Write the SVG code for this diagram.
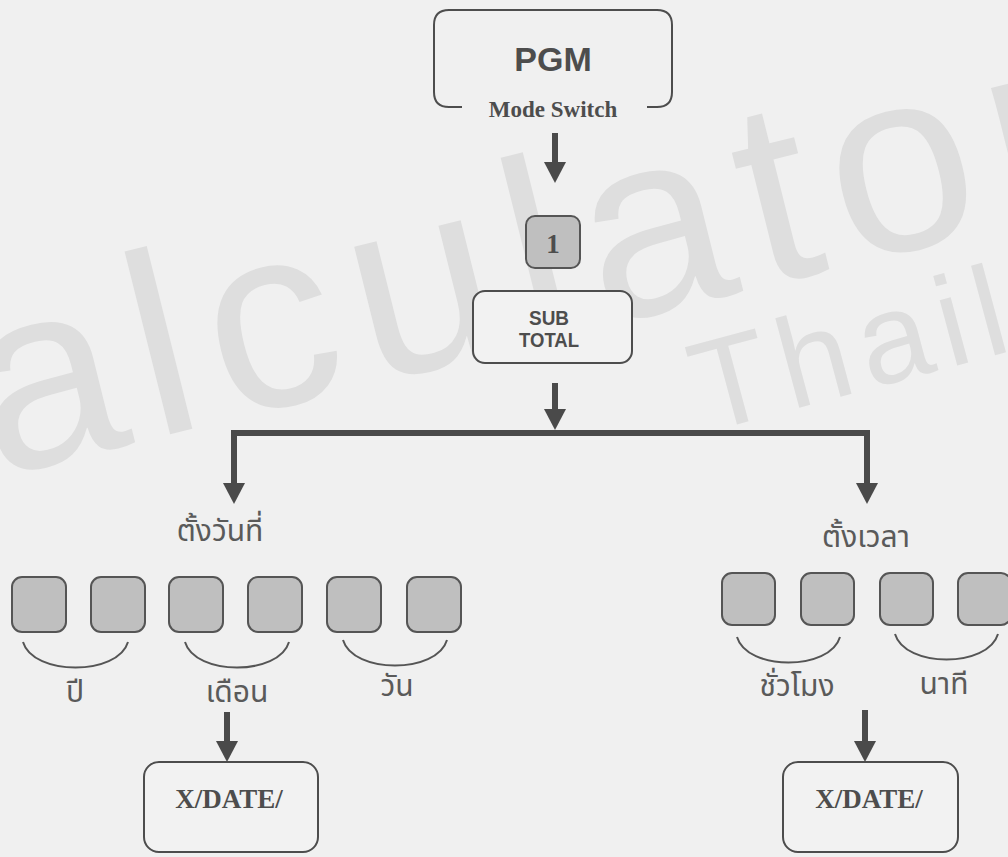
<svg xmlns="http://www.w3.org/2000/svg" width="1008" height="857" viewBox="0 0 1008 857">
<style>
.box{fill:#f2f2f2;stroke:#4d4d4d;stroke-width:2}
.key{fill:#bfbfbf;stroke:#555;stroke-width:2}
.conn{fill:none;stroke:#4a4a4a;stroke-width:6;stroke-linejoin:miter}
.arc{fill:none;stroke:#555;stroke-width:2}
.sans{font-family:"Liberation Sans",Arial,sans-serif;font-weight:bold;fill:#4d4d4d;text-anchor:middle}
.serif{font-family:"Liberation Serif","Times New Roman",serif;font-weight:bold;fill:#4d4d4d;text-anchor:middle}
.thai{font-family:"Noto Sans Thai","Noto Sans","DejaVu Sans",sans-serif;font-size:30px;fill:#5a5a5a;text-anchor:middle}
.wm{font-family:"Liberation Sans",Arial,sans-serif;fill:#dedede}
</style>
<defs>
<marker id="ah" markerUnits="userSpaceOnUse" markerWidth="24" markerHeight="24" refX="0" refY="11" orient="auto">
<path d="M0,0 L21,11 L0,22 z" fill="#4a4a4a"/>
</marker>
</defs>
<rect width="1008" height="857" fill="#f0f0f0"/>
<g id="watermark">
<text class="wm" x="-5" y="478" font-size="260" textLength="1130" lengthAdjust="spacing" transform="rotate(-14 -5 478)">alculator</text>
<text class="wm" x="705" y="433" font-size="128" textLength="320" lengthAdjust="spacing" transform="rotate(-15 705 433)">Thail</text>
</g>
<g id="connectors">
<path class="conn" d="M555 133 V162" marker-end="url(#ah)"/>
<path class="conn" d="M555 383 V409" marker-end="url(#ah)"/>
<path class="conn" d="M555 433 H234 V483" marker-end="url(#ah)"/>
<path class="conn" d="M555 433 H867 V483" marker-end="url(#ah)"/>
<path class="conn" d="M227 712 V741" marker-end="url(#ah)"/>
<path class="conn" d="M865 710 V741" marker-end="url(#ah)"/>
</g>
<g id="pgm">
<path class="box" style="fill:none" d="M462 107 H449 Q434 107 434 92 V25 Q434 10 449 10 H657 Q672 10 672 25 V92 Q672 107 657 107 H647"/>
<text class="sans" x="553" y="71" font-size="34">PGM</text>
<text class="serif" x="553" y="117" font-size="23">Mode Switch</text>
</g>
<g id="key1">
<rect class="key" x="526" y="216" width="54" height="52" rx="9"/>
<text class="serif" x="553" y="253" font-size="27">1</text>
</g>
<g id="subtotal">
<rect class="box" x="473" y="291" width="159" height="72" rx="12"/>
<text class="sans" x="549" y="325" font-size="21" textLength="40" lengthAdjust="spacingAndGlyphs">SUB</text>
<text class="sans" x="549" y="347" font-size="21" textLength="60" lengthAdjust="spacingAndGlyphs">TOTAL</text>
</g>
<g id="set-date">
<text class="thai" x="220" y="541">ตั้งวันที่</text>
<rect class="key" x="12" y="577" width="54" height="55" rx="10"/>
<rect class="key" x="91" y="577" width="54" height="55" rx="10"/>
<rect class="key" x="169" y="577" width="54" height="55" rx="10"/>
<rect class="key" x="248" y="577" width="54" height="55" rx="10"/>
<rect class="key" x="327" y="577" width="54" height="55" rx="10"/>
<rect class="key" x="407" y="577" width="54" height="55" rx="10"/>
<path class="arc" d="M23 642 C33 676 118 676 128 642"/>
<path class="arc" d="M185 642 C195 676 279 676 289 642"/>
<path class="arc" d="M343 640 C353 674 437 674 447 640"/>
<text class="thai" x="75" y="702">ปี</text>
<text class="thai" x="237" y="702">เดือน</text>
<text class="thai" x="397" y="696">วัน</text>
</g>
<g id="set-time">
<text class="thai" x="866" y="547">ตั้งเวลา</text>
<rect class="key" x="722" y="573" width="53" height="52" rx="10"/>
<rect class="key" x="801" y="573" width="53" height="52" rx="10"/>
<rect class="key" x="880" y="573" width="53" height="52" rx="10"/>
<rect class="key" x="958" y="573" width="53" height="52" rx="10"/>
<path class="arc" d="M737 637 C747 671 830 671 840 637"/>
<path class="arc" d="M895 634 C905 668 988 668 998 634"/>
<text class="thai" x="797" y="696">ชั่วโมง</text>
<text class="thai" x="944" y="694">นาที</text>
</g>
<g id="xdate-left">
<rect class="box" x="144" y="762" width="174" height="90" rx="15"/>
<text class="serif" x="229" y="808" font-size="27">X/DATE/</text>
</g>
<g id="xdate-right">
<rect class="box" x="783" y="762" width="175" height="90" rx="15"/>
<text class="serif" x="869" y="808" font-size="27">X/DATE/</text>
</g>
</svg>
